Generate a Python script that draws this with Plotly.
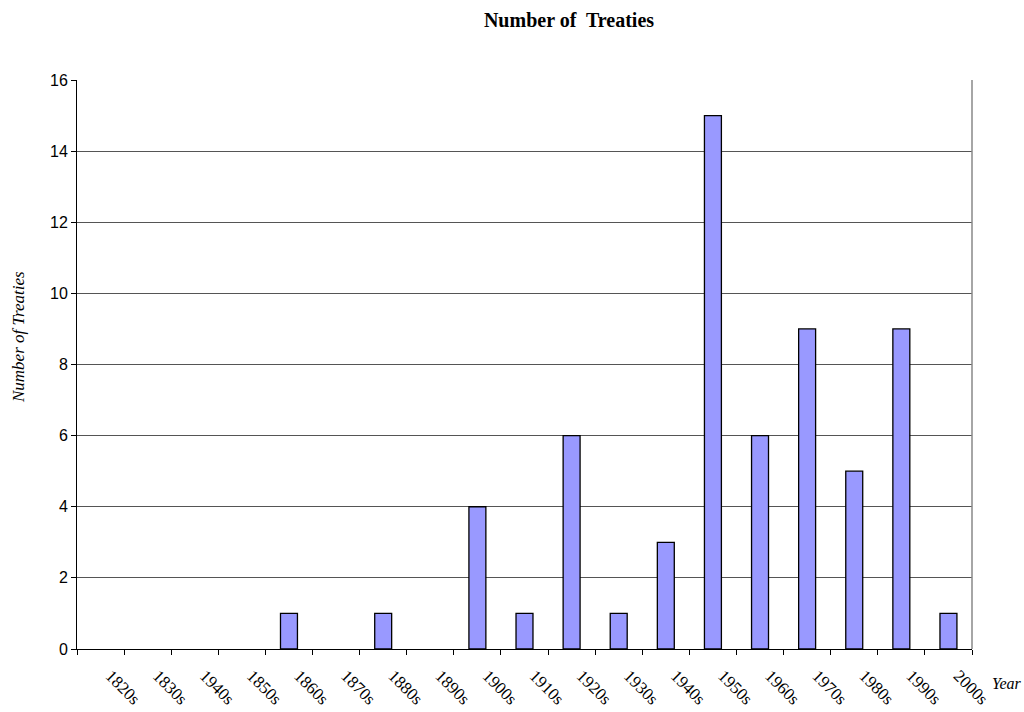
import plotly.graph_objects as go

categories = ["1820s", "1830s", "1940s", "1850s", "1860s", "1870s", "1880s", "1890s",
              "1900s", "1910s", "1920s", "1930s", "1940s", "1950s", "1960s", "1970s",
              "1980s", "1990s", "2000s"]
treaties = [0, 0, 0, 0, 1, 0, 1, 0, 4, 1, 6, 1, 3, 15, 6, 9, 5, 9, 1]
y_ticks = [0, 2, 4, 6, 8, 10, 12, 14, 16]

positions = list(range(len(categories)))
# zero-count decades have no visible bar
bar_values = [v if v > 0 else None for v in treaties]

SERIF = "Liberation Serif, Times New Roman, serif"
SANS = "Liberation Sans, Arial, sans-serif"

fig = go.Figure()
fig.add_trace(go.Bar(
    x=positions, y=bar_values, width=0.36,
    marker=dict(color="#9999FF", line=dict(color="black", width=1.3)),
    hoverinfo="skip", showlegend=False,
))

fig.update_layout(
    width=1024, height=712,
    paper_bgcolor="white", plot_bgcolor="white",
    margin=dict(l=77, r=52, t=80, b=63, autoexpand=False),
    title=dict(text="<b>Number of  Treaties</b>", x=569/1024, xanchor="center",
               y=1-20/712, yanchor="middle",
               font=dict(family=SERIF, size=20, color="black")),
    xaxis=dict(
        range=[-0.5, len(categories) - 0.5], automargin=False,
        tickmode="array", tickvals=positions, ticktext=categories,
        tickangle=45, ticks="", showgrid=False, zeroline=False,
        showline=True, linecolor="black", linewidth=1,
        ticklabelstandoff=9, ticklabelshift=10,
        tickfont=dict(family=SERIF, size=17, color="black"),
        minor=dict(tickmode="linear", tick0=-0.5, dtick=1, ticks="outside",
                   ticklen=5, tickcolor="black", tickwidth=1, showgrid=False),
    ),
    yaxis=dict(
        range=[0, 16], tickmode="array", tickvals=y_ticks, automargin=False,
        ticks="outside", ticklen=5, tickcolor="black", tickwidth=1,
        showgrid=True, gridcolor="#555555", gridwidth=1, zeroline=False,
        showline=True, linecolor="black", linewidth=1,
        tickfont=dict(family=SANS, size=16, color="black"),
    ),
    shapes=[dict(type="line", xref="paper", yref="paper", x0=1, x1=1, y0=0, y1=1,
                 line=dict(color="#888888", width=1.5))],
    annotations=[
        dict(text="<i>Year</i>", xref="paper", yref="paper",
             x=(1007-77)/895, y=-35/569, xanchor="center", yanchor="middle",
             showarrow=False, font=dict(family=SERIF, size=16, color="black")),
        dict(text="<i>Number of Treaties</i>", xref="paper", yref="paper",
             x=(18-77)/895, y=(649-337)/569, xanchor="center", yanchor="middle",
             textangle=-90, showarrow=False,
             font=dict(family=SERIF, size=17, color="black")),
    ],
)

fig.write_html("out.html", config={"displayModeBar": False},
               post_script="document.body.style.margin='0';document.body.style.padding='0';")
